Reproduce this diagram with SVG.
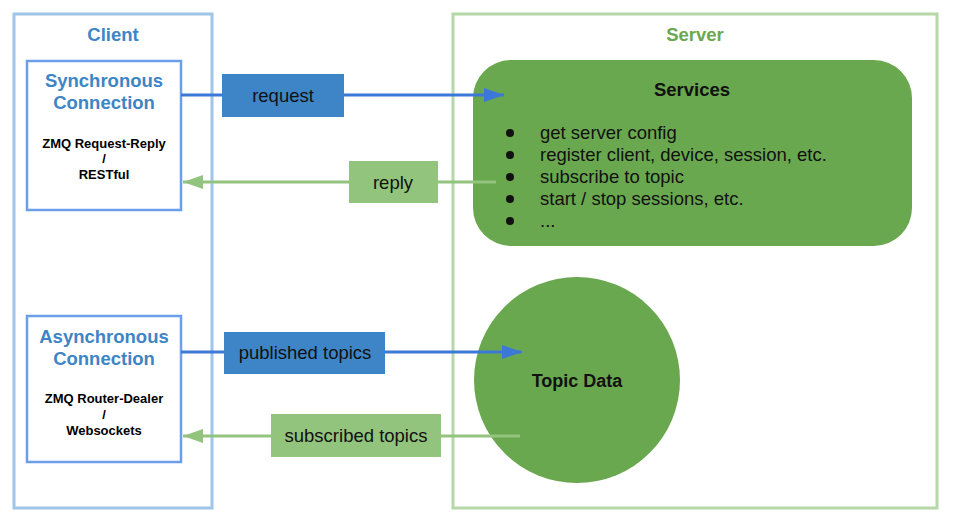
<svg xmlns="http://www.w3.org/2000/svg" width="957" height="527" viewBox="0 0 957 527">
<style>
text{font-family:"Liberation Sans",Arial,sans-serif}
.title{font-size:18.5px;font-weight:bold;text-anchor:middle}
.blue{fill:#3d85c6}
.small{font-size:13px;font-weight:bold;text-anchor:middle;fill:#000}
.lbl{font-size:18.5px;text-anchor:middle;fill:#111}
.item{font-size:18.5px;fill:#111}
.conn{fill:#fff;stroke:#6d9eeb;stroke-width:2.5}
.bl{stroke:#3c78d8;stroke-width:3;fill:none}
.gl{stroke:#93c47d;stroke-width:3;fill:none}
</style>
<defs>
<marker id="ab" markerUnits="userSpaceOnUse" markerWidth="22" markerHeight="16" refX="20" refY="7" orient="auto"><path d="M0,0 L20,7 L0,14 Z" fill="#3c78d8"/></marker>
<marker id="ag" markerUnits="userSpaceOnUse" markerWidth="22" markerHeight="16" refX="20" refY="7" orient="auto"><path d="M0,0 L20,7 L0,14 Z" fill="#93c47d"/></marker>
</defs>
<rect width="957" height="527" fill="#fff"/>
<g id="client">
<rect x="14" y="14" width="198" height="494" fill="none" stroke="#9fc5e8" stroke-width="3"/>
<text class="title blue" x="113" y="41">Client</text>
</g>
<g id="server">
<rect x="453" y="14" width="484" height="494" fill="none" stroke="#b6d7a8" stroke-width="3"/>
<text class="title" x="695" y="41" fill="#6aa84f">Server</text>
</g>
<g id="sync">
<rect class="conn" x="27" y="61" width="154" height="149"/>
<text class="title blue" x="104" y="87">Synchronous</text>
<text class="title blue" x="104" y="109">Connection</text>
<text class="small" x="104" y="148">ZMQ Request-Reply</text>
<text class="small" x="104" y="163">/</text>
<text class="small" x="104" y="179">RESTful</text>
</g>
<g id="async">
<rect class="conn" x="27" y="316" width="154" height="146"/>
<text class="title blue" x="104" y="343">Asynchronous</text>
<text class="title blue" x="104" y="365">Connection</text>
<text class="small" x="104" y="403">ZMQ Router-Dealer</text>
<text class="small" x="104" y="419">/</text>
<text class="small" x="104" y="435">Websockets</text>
</g>
<g id="services">
<rect x="473" y="60" width="439" height="186" rx="38" ry="38" fill="#6aa84f"/>
<text class="title" x="692" y="96" fill="#111">Services</text>
<g fill="#111">
<circle cx="510" cy="133" r="4"/>
<circle cx="510" cy="155" r="4"/>
<circle cx="510" cy="177" r="4"/>
<circle cx="510" cy="199" r="4"/>
<circle cx="510" cy="221" r="4"/>
</g>
<text class="item" x="540" y="139">get server config</text>
<text class="item" x="540" y="161">register client, device, session, etc.</text>
<text class="item" x="540" y="183">subscribe to topic</text>
<text class="item" x="540" y="205">start / stop sessions, etc.</text>
<text class="item" x="540" y="227">...</text>
</g>
<g id="topicdata">
<circle cx="577" cy="380" r="103" fill="#6aa84f"/>
<text class="title" x="577" y="387" fill="#111" style="font-size:18px">Topic Data</text>
</g>
<g id="connectors">
<line class="bl" x1="181" y1="95" x2="504" y2="95" marker-end="url(#ab)"/>
<line class="gl" x1="496" y1="182" x2="183" y2="182" marker-end="url(#ag)"/>
<line class="bl" x1="181" y1="352" x2="522" y2="352" marker-end="url(#ab)"/>
<line class="gl" x1="520" y1="436" x2="183" y2="436" marker-end="url(#ag)"/>
<g id="lbl-request">
<rect x="222" y="74" width="122" height="43" fill="#3d85c6"/>
<text class="lbl" x="283" y="102">request</text>
</g>
<g id="lbl-reply">
<rect x="349" y="161" width="89" height="42" fill="#93c47d"/>
<text class="lbl" x="393" y="189">reply</text>
</g>
<g id="lbl-published">
<rect x="224" y="332" width="161" height="42" fill="#3d85c6"/>
<text class="lbl" x="305" y="359">published topics</text>
</g>
<g id="lbl-subscribed">
<rect x="271" y="414" width="170" height="43" fill="#93c47d"/>
<text class="lbl" x="356" y="442">subscribed topics</text>
</g>
</g>
</svg>
